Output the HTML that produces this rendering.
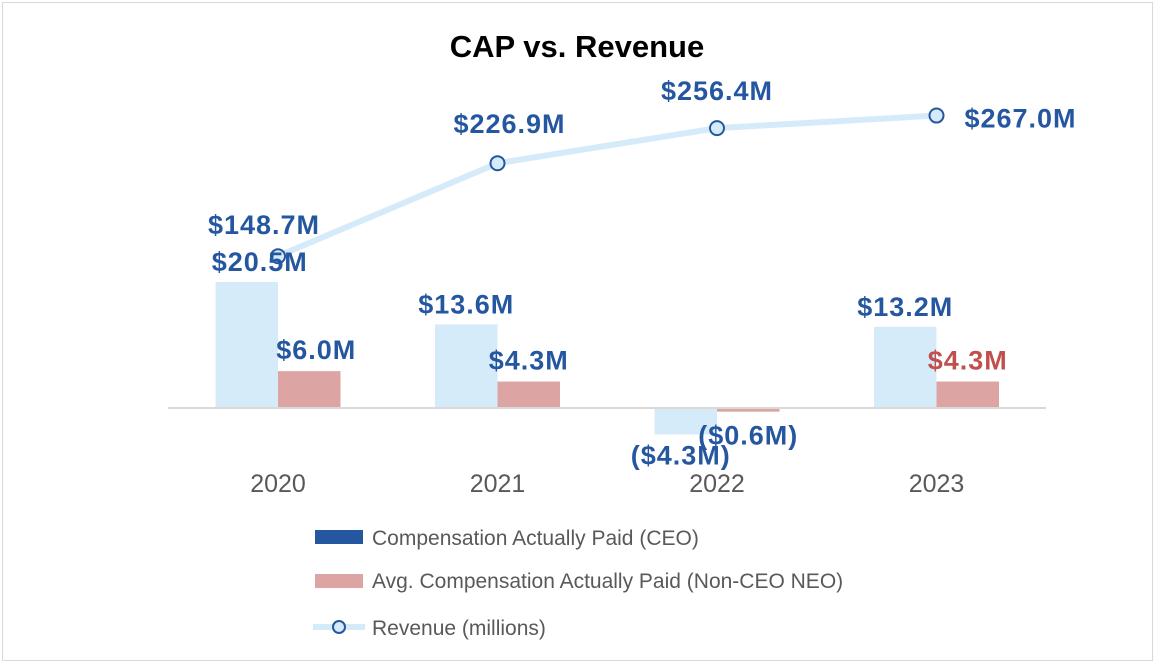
<!DOCTYPE html>
<html><head><meta charset="utf-8"><style>
body{margin:0;background:#fff;}
svg{display:block;font-family:"Liberation Sans",sans-serif;}
</style></head><body>
<svg width="1162" height="672" id="chart">
<rect x="2.5" y="2.5" width="1150" height="658" fill="#fff" stroke="#d9d9d9"/>
<text x="577" y="57" text-anchor="middle" font-size="31" font-weight="bold" fill="#000">CAP vs. Revenue</text>
<g id="plot"></g>
<g font-size="21" fill="#595959">
<rect x="315" y="530" width="48" height="14" fill="#2557a0"/>
<text x="372" y="545">Compensation Actually Paid (CEO)</text>
<rect x="315" y="574" width="48" height="14" fill="#dca5a4"/>
<text x="372" y="588">Avg. Compensation Actually Paid (Non-CEO NEO)</text>
<line x1="313" y1="627" x2="365" y2="627" stroke="#d6ebfa" stroke-width="6"/>
<circle cx="339" cy="627" r="6" fill="#d6ebfa" stroke="#2557a0" stroke-width="2"/>
<text x="372" y="635">Revenue (millions)</text>
</g>
</svg>
<script>
const categories=["2020","2021","2022","2023"];
const ceoValues=[20.5,13.6,-4.3,13.2];
const neoValues=[6.0,4.3,-0.6,4.3];
const revenueValues=[148.7,226.9,256.4,267.0];
const ceoLabels=["$20.5M","$13.6M","($4.3M)","$13.2M"];
const neoLabels=["$6.0M","$4.3M","($0.6M)","$4.3M"];
const revenueLabels=["$148.7M","$226.9M","$256.4M","$267.0M"];

const NS="http://www.w3.org/2000/svg";
const g=document.getElementById('plot');
const zeroY=408, barScale=6.15, revZero=433, revScale=1.189;
const xCenter=i=>278+i*219.5;
const yBar=v=>zeroY-v*barScale;
const yRev=v=>revZero-v*revScale;
const bw=62.5;
function mk(tag,attrs){const e=document.createElementNS(NS,tag);for(const k in attrs)e.setAttribute(k,attrs[k]);g.appendChild(e);return e;}
function txt(x,y,s,color,size,anchor,bold){const t=mk('text',{x:x,y:y,'text-anchor':anchor||'middle','font-size':size,fill:color,'font-weight':bold?'bold':'normal','letter-spacing':bold?'1':'0'});t.textContent=s;return t;}

categories.forEach((c,i)=>{
  const cx=xCenter(i);
  const y1=yBar(ceoValues[i]);
  const b1=mk('rect',{x:cx-bw,y:Math.min(y1,zeroY),width:bw,height:Math.abs(zeroY-y1),fill:'#d6ebfa'});
  
  
  const y2=yBar(neoValues[i]);
  const b2=mk('rect',{x:cx,y:Math.min(y2,zeroY),width:bw,height:Math.abs(zeroY-y2),fill:'#dca5a4'});
  
  
});
const ax=mk('line',{x1:168,y1:zeroY,x2:1046,y2:zeroY,stroke:'#d9d9d9','stroke-width':2});



categories.forEach((c,i)=>{
  const t=txt(xCenter(i),492,c,'#595959',25);
  
  
});

const pts=revenueValues.map((v,i)=>xCenter(i)+','+yRev(v)).join(' ');
const line=mk('polyline',{points:pts,fill:'none',stroke:'#d6ebfa','stroke-width':6,'stroke-linejoin':'round'});


revenueValues.forEach((v,i)=>{
  const p=mk('circle',{cx:xCenter(i),cy:yRev(v),r:7,fill:'#d6ebfa',stroke:'#2557a0','stroke-width':2});
  
  
});

const blue='#2557a0', fs=27;
categories.forEach((c,i)=>{
  const cx=xCenter(i);
  let lx=cx-bw/2, ly;
  if(ceoValues[i]>=0){ly=yBar(ceoValues[i])-11; if(i===0)lx+=13;}
  else{ly=yBar(ceoValues[i])+30; lx-=5;}
  const t1=txt(lx,ly,ceoLabels[i],blue,fs,'middle',true);
  
  
  let nx=cx+bw/2, ny;
  if(neoValues[i]>=0){ny=yBar(neoValues[i])-12; if(i===0)nx+=7;}
  else{ny=yBar(neoValues[i])+33;}
  const t2=txt(nx,ny,neoLabels[i],i===3?'#c0504d':blue,fs,'middle',true);
  
  
  let rx=cx, ry=yRev(revenueValues[i])-30;
  if(i===0){rx=cx-14;ry=yRev(revenueValues[i])-22;}
  if(i===1){rx=cx+12;ry=yRev(revenueValues[i])-30;}
  if(i===2){ry=yRev(revenueValues[i])-28;}
  if(i===3){rx=cx+84;ry=yRev(revenueValues[i])+12;}
  const t3=txt(rx,ry,revenueLabels[i],blue,fs,'middle',true);
  
  
});
</script>
</body></html>
